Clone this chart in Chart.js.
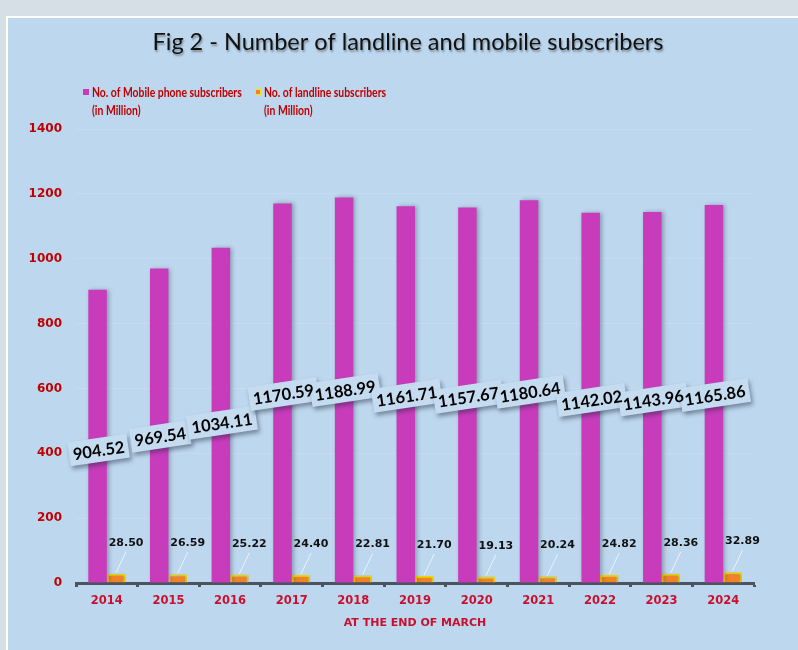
<!DOCTYPE html>
<html>
<head>
<meta charset="utf-8">
<script src="https://cdn.jsdelivr.net/npm/chart.js@4.4.1/dist/chart.umd.min.js"></script>
<style>
  html, body { margin: 0; padding: 0; background: #d6dee6; }
  #wrap { width: 798px; height: 650px; }
</style>
</head>
<body>
<div id="wrap"><canvas id="subs-chart" width="798" height="650"></canvas></div>
<script>
// Values
const years = ["2014", "2015", "2016", "2017", "2018", "2019", "2020", "2021", "2022", "2023", "2024"];
const mobileSubs = [904.52, 969.54, 1034.11, 1170.59, 1188.99, 1161.71, 1157.67, 1180.64, 1142.02, 1143.96, 1165.86];
const landlineSubs = [28.50, 26.59, 25.22, 24.40, 22.81, 21.70, 19.13, 20.24, 24.82, 28.36, 32.89];
const yTicks = [0, 200, 400, 600, 800, 1000, 1200, 1400];

const mobileColor = "#c83cbc";
const landColor = "#f08228";
const landBorder = "#ffe200";
const redText = "#c00000";

// panel background, title and legend
const framePlugin = {
    id: "frame",
    beforeDraw(chart) {
        const ctx = chart.ctx;
        ctx.save();
        ctx.fillStyle = "#d6dee6";
        ctx.fillRect(0, 0, chart.width, chart.height);
        ctx.fillStyle = "#bdd7ee";
        ctx.fillRect(7, 17, chart.width, chart.height);
        ctx.strokeStyle = "#ffffff";
        ctx.lineWidth = 2;
        ctx.strokeRect(7, 17, chart.width + 10, chart.height + 10);
        ctx.restore();
    },
    afterDraw(chart) {
        const ctx = chart.ctx;
        ctx.save();
        // title
        ctx.font = "23.5px Lato";
        ctx.textAlign = "center";
        ctx.textBaseline = "middle";
        ctx.shadowColor = "rgba(0,0,0,0.35)";
        ctx.shadowOffsetX = 1;
        ctx.shadowOffsetY = 2;
        ctx.shadowBlur = 2;
        ctx.fillStyle = "#111111";
        ctx.fillText("Fig 2 - Number of landline and mobile subscribers", 408, 42);
        ctx.restore();

        // legend (text squeezed a little to match the narrow original face)
        const items = [
            { x: 83, fill: mobileColor, border: null, lines: ["No. of Mobile phone subscribers", "(in Million)"] },
            { x: 255, fill: landColor, border: landBorder, lines: ["No. of landline subscribers", "(in Million)"] }
        ];
        items.forEach(item => {
            ctx.save();
            ctx.fillStyle = item.fill;
            ctx.fillRect(item.x, 89, 6, 6);
            if (item.border) {
                ctx.strokeStyle = item.border;
                ctx.lineWidth = 1;
                ctx.strokeRect(item.x + 0.5, 89.5, 5, 5);
            }
            ctx.translate(item.x + 9, 0);
            ctx.scale(0.8, 1);
            ctx.font = "bold 13px Lato";
            ctx.textBaseline = "middle";
            ctx.textAlign = "left";
            ctx.fillStyle = redText;
            ctx.fillText(item.lines[0], 0, 93);
            ctx.fillText(item.lines[1], 0, 111);
            ctx.restore();
        });
    }
};

// soft shadow behind the bars
const shadowPlugin = {
    id: "barShadow",
    beforeDatasetsDraw(chart) {
        const ctx = chart.ctx;
        ctx.save();
        ctx.shadowColor = "rgba(40,50,70,0.35)";
        ctx.shadowOffsetX = 2;
        ctx.shadowOffsetY = 0;
        ctx.shadowBlur = 4;
    },
    afterDatasetsDraw(chart) {
        chart.ctx.restore();
    }
};

// value labels: tilted boxes for mobile, leader-lined text for landline
const labelPlugin = {
    id: "valueLabels",
    afterDatasetsDraw(chart) {
        const ctx = chart.ctx;
        const yScale = chart.scales.y;
        const mobileMeta = chart.getDatasetMeta(0);
        const landMeta = chart.getDatasetMeta(1);

        // landline labels
        ctx.save();
        ctx.font = "bold 11px 'DejaVu Sans'";
        ctx.textAlign = "center";
        ctx.textBaseline = "middle";
        landMeta.data.forEach((bar, i) => {
            const tx = bar.x + 10;
            const ty = bar.y - 31;
            ctx.strokeStyle = "rgba(240,246,252,0.9)";
            ctx.lineWidth = 1;
            ctx.beginPath();
            ctx.moveTo(tx, ty + 9);
            ctx.lineTo(bar.x, bar.y - 1);
            ctx.stroke();
            ctx.fillStyle = "#111111";
            ctx.fillText(landlineSubs[i].toFixed(2), tx, ty);
        });
        ctx.restore();

        // mobile labels: boxes first, then all texts on top
        ctx.save();
        ctx.font = "bold 16.5px Lato";
        ctx.textAlign = "center";
        ctx.textBaseline = "middle";
        const spots = mobileMeta.data.map((bar, i) => {
            const v = mobileSubs[i];
            return { x: bar.x + 1, y: yScale.getPixelForValue(0.65 * v - 178), text: v.toFixed(2) };
        });
        ["box", "text"].forEach(pass => {
            spots.forEach(s => {
                const w = ctx.measureText(s.text).width + 8;
                const h = 24;
                ctx.save();
                ctx.translate(s.x, s.y);
                ctx.rotate(-8.5 * Math.PI / 180);
                if (pass === "box") {
                    ctx.shadowColor = "rgba(30,40,60,0.45)";
                    ctx.shadowOffsetX = 2;
                    ctx.shadowOffsetY = 3;
                    ctx.shadowBlur = 4;
                    ctx.fillStyle = "#c4dbf0";
                    ctx.fillRect(-w / 2, -h / 2, w, h);
                } else {
                    ctx.fillStyle = "#000000";
                    ctx.fillText(s.text, 0, 1);
                }
                ctx.restore();
            });
        });
        ctx.restore();
    }
};

const chart = new Chart(document.getElementById("subs-chart"), {
    type: "bar",
    data: {
        labels: years,
        datasets: [{
            label: "No. of Mobile phone subscribers (in Million)",
            data: mobileSubs,
            backgroundColor: mobileColor,
            borderWidth: 0,
            categoryPercentage: 0.6,
            barPercentage: 1.0
        }, {
            label: "No. of landline subscribers (in Million)",
            data: landlineSubs,
            backgroundColor: landColor,
            borderColor: landBorder,
            borderWidth: 2,
            categoryPercentage: 0.6,
            barPercentage: 1.0
        }]
    },
    options: {
        responsive: false,
        animation: false,
        layout: { padding: { top: 129, right: 44, bottom: 20, left: 0 } },
        plugins: {
            legend: { display: false },
            title: { display: false },
            tooltip: { enabled: false }
        },
        scales: {
            x: {
                grid: {
                    offset: true,
                    drawOnChartArea: false,
                    tickLength: 4,
                    tickWidth: 3,
                    color: "#4a545e"
                },
                border: { display: true, color: "#4a545e", width: 3 },
                ticks: {
                    color: "#c8102e",
                    font: { family: "DejaVu Sans", weight: "bold", size: 11.5 },
                    padding: 7
                },
                title: {
                    display: true,
                    text: "AT THE END OF MARCH",
                    color: "#c8102e",
                    font: { family: "DejaVu Sans", weight: "bold", size: 11 },
                    padding: { top: 2, bottom: 0 }
                }
            },
            y: {
                min: 0,
                max: 1400,
                afterFit(scale) { scale.width = 76; },
                afterBuildTicks(scale) { scale.ticks = yTicks.map(v => ({ value: v })); },
                grid: {
                    color: "rgba(255,255,255,0.12)",
                    drawTicks: false
                },
                border: { display: false },
                ticks: {
                    color: redText,
                    font: { family: "DejaVu Sans", weight: "bold", size: 12 },
                    padding: 14,
                    callback: value => String(value)
                }
            }
        }
    },
    plugins: [framePlugin, shadowPlugin, labelPlugin]
});
</script>
</body>
</html>
